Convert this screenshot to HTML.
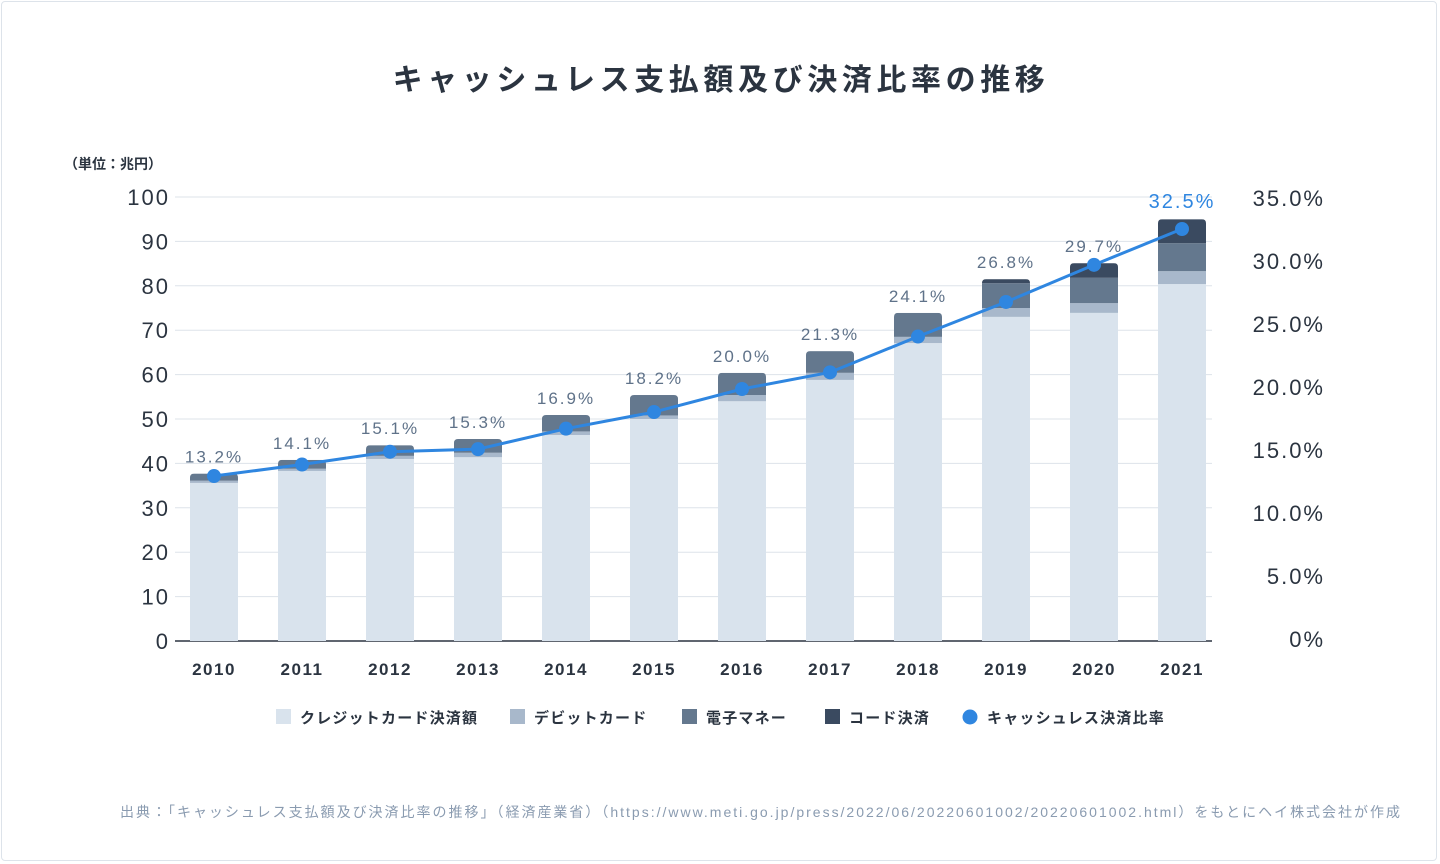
<!DOCTYPE html>
<html><head><meta charset="utf-8"><style>
html,body{margin:0;padding:0;background:#fff;}
body{width:1440px;height:864px;overflow:hidden;font-family:"Liberation Sans","Noto Sans CJK JP",sans-serif;}
.frame{position:absolute;left:1px;top:1px;width:1436px;height:860px;border:1px solid #dde3ea;border-radius:4px;box-sizing:border-box;}
</style></head><body>
<div class="frame"></div>
<svg id="chart" width="1440" height="864" style="position:absolute;left:0;top:0">
<text x="721" y="90" text-anchor="middle" font-size="30" font-weight="bold" fill="#2b3440" letter-spacing="4.6">キャッシュレス支払額及び決済比率の推移</text>
<text x="64" y="169" font-size="14" font-weight="bold" fill="#2b3440">（単位：兆円）</text>
<g id="grid"></g><g id="bars"></g><g id="line"></g><g id="axes"></g>
<g font-size="15" font-weight="bold" fill="#2b3440" letter-spacing="1.2">
<rect x="276" y="709" width="15" height="15" fill="#d9e3ed"/><text x="300" y="723">クレジットカード決済額</text>
<rect x="510" y="709" width="15" height="15" fill="#a8b8cb"/><text x="534" y="723">デビットカード</text>
<rect x="682" y="709" width="15" height="15" fill="#64788e"/><text x="706" y="723">電子マネー</text>
<rect x="825" y="709" width="15" height="15" fill="#3a4a60"/><text x="849" y="723">コード決済</text>
<circle cx="970" cy="717" r="7.5" fill="#2f86e0"/><text x="987" y="723">キャッシュレス決済比率</text>
</g>
<text x="120" y="817" font-size="14" fill="#8a9bb0" textLength="1280" lengthAdjust="spacing">出典：「キャッシュレス支払額及び決済比率の推移」（経済産業省）（https://www.meti.go.jp/press/2022/06/20220601002/20220601002.html）をもとにヘイ株式会社が作成</text>
</svg>
<script>
const years=["2010","2011","2012","2013","2014","2015","2016","2017","2018","2019","2020","2021"];
const credit=[35.6,38.3,41.0,41.4,46.4,50.0,54.0,58.8,67.1,73.0,73.9,80.4];
const debit=[0.5,0.5,0.7,1.0,0.8,0.8,1.4,1.6,1.4,2.0,2.2,2.9];
const emoney=[1.6,2.0,2.4,3.1,3.7,4.6,5.0,4.9,5.4,5.6,5.7,6.3];
const code=[0,0,0,0,0,0,0,0,0,0.9,3.3,5.4];
const rate=[13.2,14.1,15.1,15.3,16.9,18.2,20.0,21.3,24.1,26.8,29.7,32.5];
const leftTicks=[0,10,20,30,40,50,60,70,80,90,100];
const rightTicks=["0%","5.0%","10.0%","15.0%","20.0%","25.0%","30.0%","35.0%"];
const NS="http://www.w3.org/2000/svg";
const X0=175,X1=1212,Y0=641,Y100=197;
const y=v=>Y0-(v/100)*(Y0-Y100);
const yr=p=>645-p*12.8;
const yt=p=>640-p*12.6;
const x=i=>214+i*88;
function mk(tag,attrs,parent){const e=document.createElementNS(NS,tag);for(const k in attrs)e.setAttribute(k,attrs[k]);parent.appendChild(e);return e;}
const grid=document.getElementById('grid'),axes=document.getElementById('axes'),bars=document.getElementById('bars'),line=document.getElementById('line');
leftTicks.forEach(t=>{
 const l=mk('line',{x1:X0,x2:X1,y1:y(t),y2:y(t),stroke:t===0?'#2b3440':'#dde3ea','stroke-width':t===0?1.5:1},grid);
 
 
 const tx=mk('text',{x:170,y:y(t)+8,'text-anchor':'end','font-size':22,fill:'#2b3440','letter-spacing':2},axes);
 tx.textContent=t;
 
 
});
rightTicks.forEach((t,i)=>{
 const tx=mk('text',{x:1325,y:yt(i*5)+7,'text-anchor':'end','font-size':22,fill:'#2b3440','letter-spacing':2},axes);
 tx.textContent=t;
 
 
});
const colors=['#d9e3ed','#a8b8cb','#64788e','#3a4a60'];
const series=[credit,debit,emoney,code];
const names=['bar-credit','bar-debit','bar-emoney','bar-code'];
years.forEach((yy,i)=>{
 const cx=x(i),w=48;
 const total=credit[i]+debit[i]+emoney[i]+code[i];
 const cp=mk('clipPath',{id:'c'+i},bars);
 mk('path',{d:`M${cx-w/2},${Y0} V${y(total)+4} Q${cx-w/2},${y(total)} ${cx-w/2+4},${y(total)} H${cx+w/2-4} Q${cx+w/2},${y(total)} ${cx+w/2},${y(total)+4} V${Y0} Z`},cp);
 let base=0;
 series.forEach((s,k)=>{
  if(s[i]>0){
   const r=mk('rect',{x:cx-w/2,y:y(base+s[i]),width:w,height:y(base)-y(base+s[i]),fill:colors[k],'clip-path':`url(#c${i})`},bars);
   
   
  }
  base+=s[i];
 });
 const tx=mk('text',{x:cx,y:675,'text-anchor':'middle','font-size':17,'font-weight':'bold',fill:'#2b3440','letter-spacing':1.5},axes);
 tx.textContent=yy;
 
 
 const last=i===years.length-1;
 const lb=mk('text',{x:cx,y:y(total)-11,'text-anchor':'middle','font-size':last?20:17,fill:last?'#2f86e0':'#5f7289','letter-spacing':2},line);
 lb.textContent=rate[i].toFixed(1)+'%';
 
 
});
const pl=mk('polyline',{points:rate.map((r,i)=>x(i)+','+yr(r)).join(' '),fill:'none',stroke:'#2f86e0','stroke-width':3},line);


rate.forEach((r,i)=>{
 const c=mk('circle',{cx:x(i),cy:yr(r),r:7,fill:'#2f86e0'},line);
 
 
});
</script>
</body></html>
